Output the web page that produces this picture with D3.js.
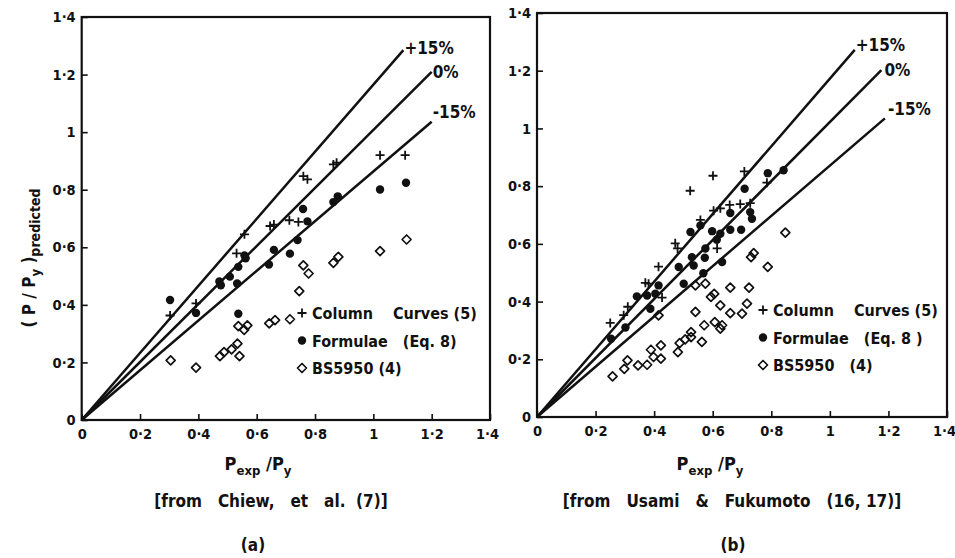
<!DOCTYPE html>
<html lang="en">
<head>
    <meta charset="UTF-8">
    <title>Predicted vs experimental strength</title>
    <script src="https://d3js.org/d3.v7.min.js"></script>
    <style>
        body { margin: 0; background: #fff; }
        svg { display: block; }
        text {
            font-family: "DejaVu Sans Condensed", "DejaVu Sans", sans-serif;
            font-stretch: condensed;
            font-weight: bold;
            fill: #111;
        }
        .tick text { font-size: 14.5px; }
        .legend text { font-size: 16px; white-space: pre; }
        .caption { font-size: 17px; white-space: pre; }
    </style>
</head>
<body>

<svg width="955" height="558"></svg>

<script>
// tick values and labels (same on both axes, both panels)
const tickValues = [0, 0.2, 0.4, 0.6, 0.8, 1, 1.2, 1.4];
const tickLabels = ["0", "0·2", "0·4", "0·6", "0·8", "1", "1·2", "1·4"];

// reference lines, end points
const lineLabels = ["+15%", "0%", "-15%"];
const leftLineEnds = [[1.103, 1.285], [1.2, 1.209], [1.2, 1.036]];
const rightLineEnds = [[1.085, 1.272], [1.176, 1.202], [1.188, 1.035]];

const legendLabels = ["Column    Curves (5)", "Formulae   (Eq. 8)", "BS5950 (4)"];
const legendLabelsB = ["Column    Curves (5)", "Formulae   (Eq. 8 )", "BS5950   (4)"];

// (a) Chiew et al.
const leftColumnCurves = [[0.303,0.363],[0.392,0.405],[0.531,0.579],[0.558,0.645],[0.646,0.674],[0.659,0.679],
    [0.712,0.694],[0.743,0.688],[0.760,0.847],[0.774,0.836],[0.863,0.888],[0.874,0.894],[1.023,0.920],[1.109,0.920]];
const leftFormulae = [[0.303,0.417],[0.392,0.372],[0.472,0.481],[0.477,0.468],[0.508,0.498],[0.537,0.532],
    [0.533,0.474],[0.537,0.369],[0.558,0.572],[0.562,0.562],[0.642,0.540],[0.659,0.591],[0.714,0.578],
    [0.740,0.625],[0.759,0.733],[0.774,0.690],[0.863,0.757],[0.878,0.777],[1.023,0.801],[1.112,0.824]];
const leftBS5950 = [[0.305,0.207],[0.392,0.182],[0.474,0.222],[0.488,0.236],[0.514,0.245],[0.534,0.265],
    [0.541,0.222],[0.537,0.326],[0.557,0.313],[0.568,0.329],[0.643,0.336],[0.663,0.347],[0.714,0.350],
    [0.746,0.448],[0.760,0.537],[0.778,0.509],[0.863,0.546],[0.880,0.567],[1.023,0.587],[1.114,0.627]];

// (b) Usami & Fukumoto
const rightColumnCurves = [[0.250,0.326],[0.296,0.353],[0.310,0.382],[0.370,0.465],[0.381,0.462],[0.415,0.521],
    [0.427,0.414],[0.472,0.602],[0.480,0.584],[0.523,0.784],[0.558,0.683],[0.601,0.836],[0.603,0.715],
    [0.615,0.584],[0.626,0.723],[0.658,0.735],[0.694,0.738],[0.708,0.851],[0.728,0.741],[0.785,0.812]];
const rightFormulae = [[0.253,0.271],[0.302,0.310],[0.341,0.418],[0.376,0.421],[0.387,0.375],[0.404,0.427],
    [0.415,0.456],[0.484,0.520],[0.501,0.462],[0.524,0.641],[0.529,0.554],[0.535,0.525],[0.558,0.664],
    [0.575,0.584],[0.573,0.552],[0.568,0.498],[0.598,0.644],[0.614,0.614],[0.626,0.635],[0.632,0.537],
    [0.660,0.649],[0.660,0.707],[0.697,0.649],[0.709,0.791],[0.728,0.710],[0.734,0.687],[0.788,0.845],[0.842,0.855]];
const rightBS5950 = [[0.258,0.141],[0.298,0.167],[0.309,0.196],[0.345,0.179],[0.376,0.181],[0.389,0.233],
    [0.398,0.208],[0.423,0.248],[0.423,0.202],[0.415,0.352],[0.481,0.225],[0.487,0.256],[0.506,0.269],
    [0.526,0.294],[0.526,0.277],[0.541,0.364],[0.541,0.456],[0.563,0.260],[0.571,0.318],[0.575,0.462],
    [0.594,0.416],[0.605,0.427],[0.607,0.329],[0.626,0.387],[0.626,0.306],[0.632,0.318],[0.660,0.448],
    [0.660,0.360],[0.700,0.358],[0.717,0.393],[0.724,0.448],[0.731,0.554],[0.740,0.568],[0.788,0.520],[0.848,0.639]];

const svg = d3.select("svg");
const ink = "#111";

function plus(g, x, y) {
    g.append("path")
        .attr("d", `M${x - 4.5},${y}H${x + 4.5}M${x},${y - 4.5}V${y + 4.5}`)
        .attr("stroke", ink).attr("stroke-width", 1.8);
}
function dot(g, x, y) {
    g.append("circle").attr("cx", x).attr("cy", y).attr("r", 4.2).attr("fill", ink);
}
function diamond(g, x, y) {
    g.append("path")
        .attr("d", `M${x},${y - 4.5}L${x + 4.5},${y}L${x},${y + 4.5}L${x - 4.5},${y}Z`)
        .attr("fill", "none").attr("stroke", ink).attr("stroke-width", 1.7)
        .attr("stroke-linejoin", "round");
}
const markers = [plus, dot, diamond];

function drawPanel(p) {
    const x = d3.scaleLinear().domain([0, 1.4]).range([p.left, p.right]);
    const y = d3.scaleLinear().domain([0, 1.4]).range([p.bottom, p.top]);
    const g = svg.append("g");

    // frame
    g.append("rect")
        .attr("x", p.left).attr("y", p.top)
        .attr("width", p.right - p.left).attr("height", p.bottom - p.top)
        .attr("fill", "none").attr("stroke", ink).attr("stroke-width", 2.2);

    const xAxis = g.append("g")
        .attr("transform", `translate(0,${p.bottom})`)
        .call(d3.axisBottom(x).tickValues(tickValues).tickFormat((d, i) => tickLabels[i])
            .tickSizeInner(-6).tickSizeOuter(0).tickPadding(9));
    const yAxis = g.append("g")
        .attr("transform", `translate(${p.left},0)`)
        .call(d3.axisLeft(y).tickValues(tickValues).tickFormat((d, i) => tickLabels[i])
            .tickSizeInner(-6).tickSizeOuter(0).tickPadding(6));
    [xAxis, yAxis].forEach(a => {
        a.select(".domain").remove();
        a.selectAll("line").attr("stroke", ink).attr("stroke-width", 1.6);
        a.selectAll("text").attr("fill", ink).attr("font-family", null).attr("font-size", null);
    });
    // keep the last x label inside the page
    xAxis.selectAll(".tick:last-of-type text").attr("dx", -3);

    // reference lines
    p.lineEnds.forEach((e, i) => {
        g.append("line")
            .attr("x1", x(0)).attr("y1", y(0))
            .attr("x2", x(e[0])).attr("y2", y(e[1]))
            .attr("stroke", ink).attr("stroke-width", 2.5);
        g.append("text")
            .attr("x", x(e[0]) + p.labelDx[i])
            .attr("y", y(e[1]) + p.labelDy[i])
            .attr("font-size", 17)
            .text(lineLabels[i]);
    });

    // points
    p.series.forEach((s, k) => {
        s.forEach(d => markers[k](g, x(d[0]), y(d[1])));
    });

    // legend
    const lg = g.append("g").attr("class", "legend");
    p.legendLabels.forEach((t, k) => {
        const ly = p.legendY + k * 27.5;
        markers[k](lg, p.legendX, ly);
        lg.append("text").attr("x", p.legendX + 10).attr("y", ly + 6).text(t);
    });

    // x title  P_exp / P_y
    const xt = g.append("text")
        .attr("x", p.titleX).attr("y", 470)
        .attr("text-anchor", "middle").attr("font-size", 18);
    xt.append("tspan").text("P");
    xt.append("tspan").attr("dy", 5).attr("font-size", 13).text("exp");
    xt.append("tspan").attr("dy", -5).text(" /P");
    xt.append("tspan").attr("dy", 5).attr("font-size", 13).text("y");

    g.append("text").attr("class", "caption")
        .attr("x", p.captionX).attr("y", 507).attr("text-anchor", "middle")
        .text(p.caption);
    g.append("text").attr("class", "caption")
        .attr("x", p.tagX).attr("y", 551).attr("text-anchor", "middle")
        .text(p.tag);
}

drawPanel({
    left: 81.7, right: 490, top: 17, bottom: 420,
    lineEnds: leftLineEnds, labelDx: [1, 1, 1], labelDy: [4, 6, -4],
    series: [leftColumnCurves, leftFormulae, leftBS5950],
    legendLabels: legendLabels, legendX: 302, legendY: 313,
    titleX: 258, caption: "[from   Chiew,   et   al.  (7)]", captionX: 271,
    tag: "(a)", tagX: 253
});
drawPanel({
    left: 537, right: 947, top: 13, bottom: 417,
    lineEnds: rightLineEnds, labelDx: [1, 3, 3], labelDy: [1, 6, -3],
    series: [rightColumnCurves, rightFormulae, rightBS5950],
    legendLabels: legendLabelsB, legendX: 763, legendY: 310,
    titleX: 710, caption: "[from   Usami   &   Fukumoto   (16, 17)]", captionX: 732,
    tag: "(b)", tagX: 733
});

// y title ( P / P_y )_predicted
const yt = svg.append("text")
    .attr("transform", "translate(35,258) rotate(-90)")
    .attr("text-anchor", "middle").attr("font-size", 17);
yt.append("tspan").text("( P / P");
yt.append("tspan").attr("dy", 5).attr("font-size", 13).text("y");
yt.append("tspan").attr("dy", -5).text(" )");
yt.append("tspan").attr("dy", 5).attr("font-size", 14).text("predicted");
</script>

</body>
</html>
